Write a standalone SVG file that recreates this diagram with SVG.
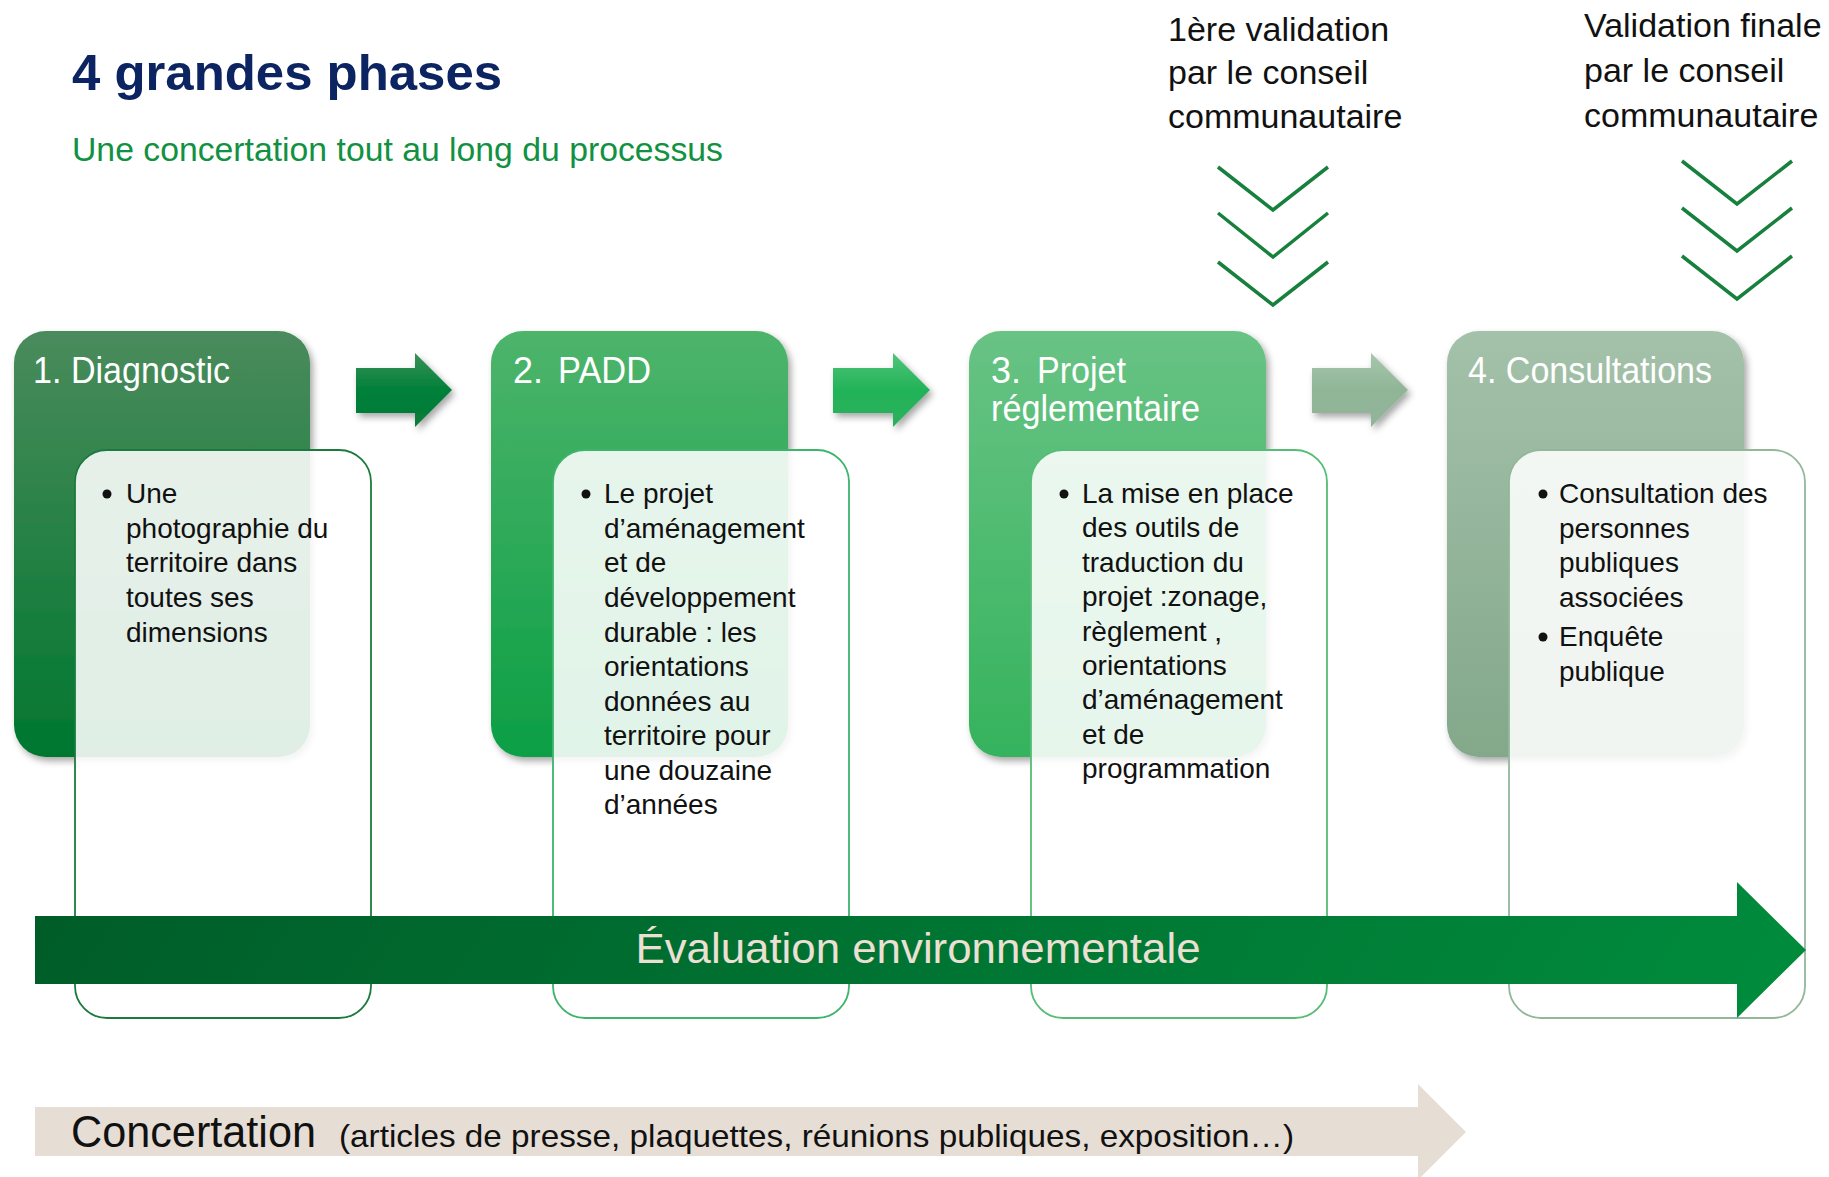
<svg xmlns="http://www.w3.org/2000/svg" width="1829" height="1177" viewBox="0 0 1829 1177">
<defs>
<style>
.f{font-family:"Liberation Sans",Arial,sans-serif}
.hd{font-family:"Liberation Sans",Arial,sans-serif;font-size:36px;fill:#fff}
.bd{font-family:"Liberation Sans",Arial,sans-serif;font-size:28px;fill:#111}
.top{font-family:"Liberation Sans",Arial,sans-serif;font-size:34px;fill:#111}
.chev{fill:none;stroke:#17803d;stroke-width:3.5}
.inner{fill:#fff;fill-opacity:0.88;stroke-width:1.8}
</style>
<filter id="sh" x="-20%" y="-20%" width="140%" height="140%">
<feDropShadow dx="3" dy="4" stdDeviation="3.5" flood-color="#000" flood-opacity="0.35"/>
</filter>
<linearGradient id="g1" x1="0" y1="0" x2="0" y2="1"><stop offset="0" stop-color="#4a8b5c"/><stop offset="1" stop-color="#00772f"/></linearGradient>
<linearGradient id="g2" x1="0" y1="0" x2="0" y2="1"><stop offset="0" stop-color="#4db46b"/><stop offset="1" stop-color="#0c9f45"/></linearGradient>
<linearGradient id="g3" x1="0" y1="0" x2="0" y2="1"><stop offset="0" stop-color="#68c384"/><stop offset="1" stop-color="#35b35d"/></linearGradient>
<linearGradient id="g4" x1="0" y1="0" x2="0" y2="1"><stop offset="0" stop-color="#a4c1aa"/><stop offset="1" stop-color="#83a88a"/></linearGradient>
<linearGradient id="a1" x1="0" y1="0" x2="0" y2="1"><stop offset="0" stop-color="#3b9158"/><stop offset="0.5" stop-color="#00803a"/><stop offset="1" stop-color="#0a7a38"/></linearGradient>
<linearGradient id="a2" x1="0" y1="0" x2="0" y2="1"><stop offset="0" stop-color="#52c47a"/><stop offset="0.5" stop-color="#22b358"/><stop offset="1" stop-color="#2cb05c"/></linearGradient>
<linearGradient id="a3" x1="0" y1="0" x2="0" y2="1"><stop offset="0" stop-color="#a8c7ae"/><stop offset="0.5" stop-color="#8fb596"/><stop offset="1" stop-color="#93b49a"/></linearGradient>
<linearGradient id="ev" x1="0" y1="0" x2="1" y2="0.05"><stop offset="0" stop-color="#005c28"/><stop offset="1" stop-color="#008a3c"/></linearGradient>
</defs>
<rect width="1829" height="1177" fill="#fff"/>

<g id="title">
<text x="72" y="90" class="f" font-size="50" font-weight="bold" fill="#0c2461" textLength="430" lengthAdjust="spacingAndGlyphs">4 grandes phases</text>
<text x="72" y="161" class="f" font-size="34" fill="#119142" textLength="651" lengthAdjust="spacingAndGlyphs">Une concertation tout au long du processus</text>
</g>

<g id="validation1">
<text class="top" x="1168" y="41">1ère validation</text>
<text class="top" x="1168" y="84">par le conseil</text>
<text class="top" x="1168" y="128">communautaire</text>
<path class="chev" d="M1218 167 L1273 210 L1328 167 M1218 213 L1273 257 L1328 213 M1218 262 L1273 305 L1328 262"/>
</g>
<g id="validation2">
<text class="top" x="1584" y="37">Validation finale</text>
<text class="top" x="1584" y="82">par le conseil</text>
<text class="top" x="1584" y="127">communautaire</text>
<path class="chev" d="M1682 161 L1737 204 L1792 161 M1682 208 L1737 251 L1792 208 M1682 256 L1737 299 L1792 256"/>
</g>

<g id="phase1">
<rect x="14" y="331" width="296" height="426" rx="32" fill="url(#g1)" filter="url(#sh)"/>
<text class="hd" x="33" y="383" textLength="197" lengthAdjust="spacingAndGlyphs">1. Diagnostic</text>
<rect class="inner" x="75" y="450" width="296" height="568" rx="32" stroke="#1d7a3e"/>
<circle cx="107" cy="494" r="4.5" fill="#111"/>
<text class="bd" x="126" y="503">Une</text>
<text class="bd" x="126" y="538">photographie du</text>
<text class="bd" x="126" y="572">territoire dans</text>
<text class="bd" x="126" y="607">toutes ses</text>
<text class="bd" x="126" y="642">dimensions</text>
</g>

<g id="phase2">
<rect x="491" y="331" width="297" height="426" rx="32" fill="url(#g2)" filter="url(#sh)"/>
<text class="hd" x="513" y="383">2.</text>
<text class="hd" x="558" y="383" textLength="93" lengthAdjust="spacingAndGlyphs">PADD</text>
<rect class="inner" x="553" y="450" width="296" height="568" rx="32" stroke="#3cb46a"/>
<circle cx="586" cy="494" r="4.5" fill="#111"/>
<text class="bd" x="604" y="503">Le projet</text>
<text class="bd" x="604" y="538">d’aménagement</text>
<text class="bd" x="604" y="572">et de</text>
<text class="bd" x="604" y="607">développement</text>
<text class="bd" x="604" y="642">durable : les</text>
<text class="bd" x="604" y="676">orientations</text>
<text class="bd" x="604" y="711">données au</text>
<text class="bd" x="604" y="745">territoire pour</text>
<text class="bd" x="604" y="780">une douzaine</text>
<text class="bd" x="604" y="814">d’années</text>
</g>

<g id="phase3">
<rect x="969" y="331" width="297" height="426" rx="32" fill="url(#g3)" filter="url(#sh)"/>
<text class="hd" x="991" y="383">3.</text>
<text class="hd" x="1037" y="383" textLength="89" lengthAdjust="spacingAndGlyphs">Projet</text>
<text class="hd" x="991" y="421" textLength="209" lengthAdjust="spacingAndGlyphs">réglementaire</text>
<rect class="inner" x="1031" y="450" width="296" height="568" rx="32" stroke="#56bd76"/>
<circle cx="1064" cy="494" r="4.5" fill="#111"/>
<text class="bd" x="1082" y="503">La mise en place</text>
<text class="bd" x="1082" y="537">des outils de</text>
<text class="bd" x="1082" y="572">traduction du</text>
<text class="bd" x="1082" y="606">projet :zonage,</text>
<text class="bd" x="1082" y="641">règlement ,</text>
<text class="bd" x="1082" y="675">orientations</text>
<text class="bd" x="1082" y="709">d’aménagement</text>
<text class="bd" x="1082" y="744">et de</text>
<text class="bd" x="1082" y="778">programmation</text>
</g>

<g id="phase4">
<rect x="1447" y="331" width="297" height="426" rx="32" fill="url(#g4)" filter="url(#sh)"/>
<text class="hd" x="1468" y="383" textLength="244" lengthAdjust="spacingAndGlyphs">4. Consultations</text>
<rect class="inner" x="1509" y="450" width="296" height="568" rx="32" stroke="#93b79b"/>
<circle cx="1543" cy="494" r="4.5" fill="#111"/>
<text class="bd" x="1559" y="503">Consultation des</text>
<text class="bd" x="1559" y="538">personnes</text>
<text class="bd" x="1559" y="572">publiques</text>
<text class="bd" x="1559" y="607">associées</text>
<circle cx="1543" cy="637" r="4.5" fill="#111"/>
<text class="bd" x="1559" y="646">Enquête</text>
<text class="bd" x="1559" y="681">publique</text>
</g>

<g id="connectors">
<path d="M356 368 H415 V353 L452 390 L415 427 V413 H356 Z" fill="url(#a1)" filter="url(#sh)"/>
<path d="M833 368 H893 V353 L930 390 L893 427 V413 H833 Z" fill="url(#a2)" filter="url(#sh)"/>
<path d="M1312 368 H1371 V353 L1408 390 L1371 427 V413 H1312 Z" fill="url(#a3)" filter="url(#sh)"/>
</g>

<g id="evaluation">
<path d="M35 916 H1737 V882 L1806 950 L1737 1018 V984 H35 Z" fill="url(#ev)"/>
<text x="918" y="963" class="f" font-size="43" fill="#ebe0d3" text-anchor="middle" textLength="565" lengthAdjust="spacingAndGlyphs">Évaluation environnementale</text>
</g>

<g id="concertation">
<path d="M35 1107 H1418 V1084 L1466 1132 L1418 1180 V1156 H35 Z" fill="#e6ddd4"/>
<text x="71" y="1147" class="f" font-size="45" fill="#111" textLength="245" lengthAdjust="spacingAndGlyphs">Concertation</text>
<text x="339" y="1147" class="f" font-size="32" fill="#111" textLength="955" lengthAdjust="spacingAndGlyphs">(articles de presse, plaquettes, réunions publiques, exposition…)</text>
</g>
</svg>
